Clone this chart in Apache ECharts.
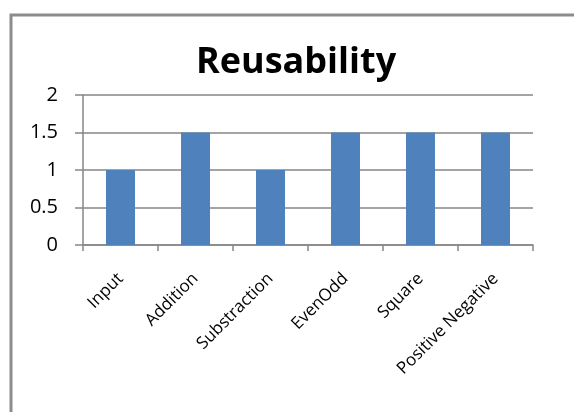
<!DOCTYPE html>
<html><head><meta charset="utf-8">
<script src="https://cdn.jsdelivr.net/npm/echarts@6/dist/echarts.min.js"></script>
<style>html,body{margin:0;padding:0;background:#fff}#c{width:574px;height:412px}</style>
</head><body><div id="c"></div>
<script>
const categories = ['Input', 'Addition', 'Substraction', 'EvenOdd', 'Square', 'Positive Negative'];
const reusability = [1, 1.5, 1, 1.5, 1.5, 1.5];
const yTicks = { min: 0, max: 2, interval: 0.5 };

const chart = echarts.init(document.getElementById('c'), null, { renderer: 'canvas' });
chart.setOption({
  backgroundColor: '#fff',
  animation: false,
  graphic: [{
    type: 'rect', shape: { x: 11, y: 15, width: 620, height: 420 },
    style: { fill: 'none', stroke: '#8c8c8c', lineWidth: 3 }, z: -1
  }],
  title: {
    text: 'Reusability', left: 196, top: 45, padding: 0,
    textStyle: { fontFamily: 'Open Sans', fontWeight: 'bold', fontSize: 36, color: '#000' }
  },
  grid: { left: 83, right: 41, top: 95, bottom: 167, containLabel: false },
  xAxis: {
    type: 'category', data: categories,
    axisLine: { lineStyle: { color: '#868686', width: 1.5 } },
    axisTick: { show: true, length: 6, lineStyle: { color: '#868686', width: 1.5 } },
    axisLabel: { rotate: 45, margin: 31, fontFamily: 'Open Sans', fontSize: 17, color: '#000' }
  },
  yAxis: {
    type: 'value', min: yTicks.min, max: yTicks.max, interval: yTicks.interval,
    axisLine: { show: true, lineStyle: { color: '#868686', width: 1.5 } },
    axisTick: { show: true, length: 8, lineStyle: { color: '#868686', width: 1.5 } },
    axisLabel: { margin: 25, fontFamily: 'Open Sans', fontSize: 20, color: '#000' },
    splitLine: { lineStyle: { color: '#868686', width: 1.5 } }
  },
  series: [{
    type: 'bar', data: reusability, barWidth: 29,
    itemStyle: { color: '#4F81BD' }
  }]
});
</script></body></html>
